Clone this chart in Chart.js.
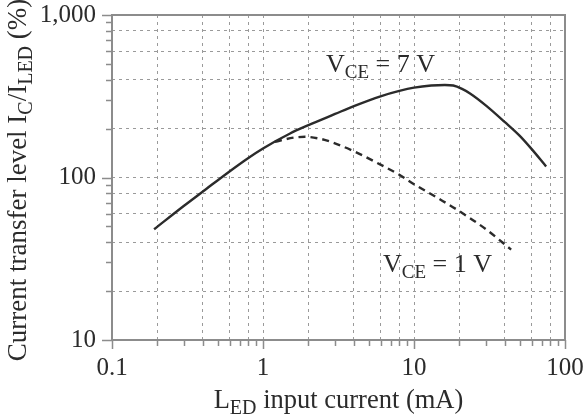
<!DOCTYPE html>
<html>
<head>
<meta charset="utf-8">
<script src="https://cdn.jsdelivr.net/npm/chart.js@4.4.0/dist/chart.umd.min.js"></script>
<style>
  html, body { margin: 0; padding: 0; background: #fff; }
  #wrap { width: 587px; height: 418px; }
</style>
</head>
<body>
<div id="wrap"><canvas id="ctr"></canvas></div>
<script>
  // LED input current (mA) and CTR (%)
  var vce7X = [0.19, 0.3, 0.4, 0.6, 0.8, 1, 1.5, 2, 3, 4, 6, 8, 10, 13, 16, 18.2, 20.8, 23.5, 30, 40, 50, 60, 75];
  var vce7Y = [48, 67, 82, 109, 132, 151, 186, 210, 246, 275, 316, 341, 357, 368, 371, 368, 351, 329, 277, 219, 181, 150, 117];
  var vce1X = [1.2, 1.6, 1.9, 2.4, 2.8, 4, 6, 8, 10, 15, 20, 30, 44];
  var vce1Y = [166, 176, 178, 173, 166, 145, 120, 104, 91, 73, 62, 48, 36];

  // axes
  var xDecades = [0.1, 1, 10, 100];
  var xDecadeLabels = ["0.1", "1", "10", "100"];
  var yDecades = [10, 100, 1000];
  var yDecadeLabels = ["10", "100", "1,000"];
  var tickMultiples = [1, 2, 3, 4, 5, 6, 7, 8, 9];
  var gridMultiples = [1, 2, 4, 6, 8];

  var serif = "'Liberation Serif', 'Times New Roman', serif";
  var ink = "#2b2b2b";
  var frameColor = "#8c8c8c";

  function toPoints(xs, ys) {
    return xs.map(function (x, i) { return { x: x, y: ys[i] }; });
  }

  function buildTicks(decades) {
    var out = [];
    decades.forEach(function (d, i) {
      if (i === decades.length - 1) { out.push({ value: d }); return; }
      tickMultiples.forEach(function (m) { out.push({ value: +(d * m).toPrecision(3) }); });
    });
    return out;
  }

  function mantissa(v) {
    return Math.round(v / Math.pow(10, Math.floor(Math.log10(v) + 1e-9)));
  }

  function labelFor(decades, labels, v) {
    for (var i = 0; i < decades.length; i++) {
      if (Math.abs(decades[i] - v) < decades[i] * 1e-6) return labels[i];
    }
    return "";
  }

  function gridColor(c) {
    if (!c.tick) return "rgba(0,0,0,0)";
    return gridMultiples.indexOf(mantissa(c.tick.value)) >= 0 ? "#9a9a9a" : "rgba(0,0,0,0)";
  }

  // keep label overflow from pushing the plot area around
  function noPadding(s) {
    s.paddingTop = 0;
    s.paddingBottom = 0;
    s.paddingLeft = 0;
    s.paddingRight = 0;
  }

  // text with subscripts: parts = [[text, isSub], ...]
  function drawParts(ctx, parts, x, y, size, align) {
    var subSize = Math.round(size * 0.74);
    var w = 0;
    parts.forEach(function (p) {
      ctx.font = (p[1] ? subSize : size) + "px " + serif;
      w += ctx.measureText(p[0]).width;
    });
    var cx = align === "center" ? x - w / 2 : x;
    ctx.textAlign = "left";
    ctx.textBaseline = "alphabetic";
    parts.forEach(function (p) {
      ctx.font = (p[1] ? subSize : size) + "px " + serif;
      ctx.fillText(p[0], cx, p[1] ? y + size * 0.24 : y);
      cx += ctx.measureText(p[0]).width;
    });
  }

  var decor = {
    id: "decor",
    afterDraw: function (chart) {
      var ctx = chart.ctx;
      var a = chart.chartArea;
      var xs = chart.scales.x, ys = chart.scales.y;
      ctx.save();

      // frame
      ctx.strokeStyle = frameColor;
      ctx.lineWidth = 2;
      ctx.strokeRect(a.left, a.top, a.right - a.left, a.bottom - a.top);

      // outward tick marks
      ctx.lineWidth = 1.5;
      ctx.beginPath();
      xs.ticks.forEach(function (t) {
        var px = Math.round(xs.getPixelForValue(t.value)) + 0.5;
        var len = mantissa(t.value) === 1 ? 9 : 6;
        ctx.moveTo(px, a.bottom);
        ctx.lineTo(px, a.bottom + len);
      });
      ys.ticks.forEach(function (t) {
        var py = Math.round(ys.getPixelForValue(t.value)) + 0.5;
        var len = mantissa(t.value) === 1 ? 10 : 6;
        ctx.moveTo(a.left, py);
        ctx.lineTo(a.left - len, py);
      });
      ctx.stroke();

      // curve labels
      ctx.fillStyle = ink;
      drawParts(ctx, [["V", false], ["CE", true], [" = 7 V", false]], 326, 72, 26, "left");
      drawParts(ctx, [["V", false], ["CE", true], [" = 1 V", false]], 383, 272, 26, "left");

      // axis titles
      drawParts(ctx, [["L", false], ["ED", true], [" input current (mA)", false]],
        (a.left + a.right) / 2, 408, 26.5, "center");
      ctx.translate(26, 180);
      ctx.rotate(-Math.PI / 2);
      drawParts(ctx, [["Current transfer level I", false], ["C", true], ["/I", false], ["LED", true], [" (%)", false]],
        0, 0, 27, "center");
      ctx.restore();
    }
  };

  new Chart(document.getElementById("ctr"), {
    type: "line",
    data: {
      datasets: [
        {
          label: "VCE = 7 V",
          data: toPoints(vce7X, vce7Y),
          borderColor: ink,
          borderWidth: 2.4,
          pointRadius: 0,
          cubicInterpolationMode: "monotone",
          fill: false,
        },
        {
          label: "VCE = 1 V",
          data: toPoints(vce1X, vce1Y),
          borderColor: ink,
          borderWidth: 2.4,
          borderDash: [7, 5],
          pointRadius: 0,
          cubicInterpolationMode: "monotone",
          fill: false,
        },
      ],
    },
    options: {
      responsive: true,
      maintainAspectRatio: false,
      animation: false,
      events: [],
      layout: { padding: { top: 15, right: 22, left: 0, bottom: 0 } },
      plugins: {
        legend: { display: false },
        tooltip: { enabled: false },
      },
      scales: {
        x: {
          type: "logarithmic",
          min: 0.1,
          max: 100,
          afterBuildTicks: function (s) { s.ticks = buildTicks(xDecades); },
          afterFit: function (s) { s.height = 78; noPadding(s); },
          border: { display: false, dash: [3, 4] },
          grid: { color: gridColor, lineWidth: 1, drawTicks: false },
          ticks: {
            autoSkip: false,
            maxRotation: 0,
            padding: 13,
            color: ink,
            font: { family: serif, size: 25 },
            callback: function (v) { return labelFor(xDecades, xDecadeLabels, v); },
          },
        },
        y: {
          type: "logarithmic",
          min: 10,
          max: 1000,
          afterBuildTicks: function (s) { s.ticks = buildTicks(yDecades); },
          afterFit: function (s) { s.width = 112; noPadding(s); },
          border: { display: false, dash: [3, 4] },
          grid: { color: gridColor, lineWidth: 1, drawTicks: false },
          ticks: {
            autoSkip: false,
            padding: 16,
            color: ink,
            font: { family: serif, size: 25 },
            callback: function (v) { return labelFor(yDecades, yDecadeLabels, v); },
          },
        },
      },
    },
    plugins: [decor],
  });
</script>
</body>
</html>
